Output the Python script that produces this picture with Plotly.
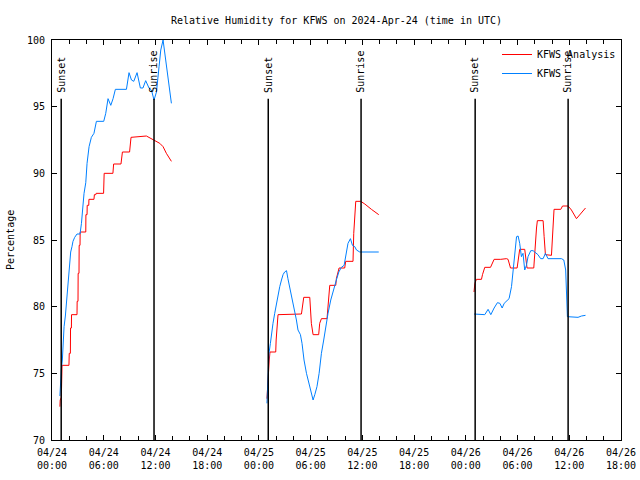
import plotly.graph_objects as go
import pandas as pd

# ---- data ----
day1, day2, day3 = "2024-04-24", "2024-04-25", "2024-04-26"

analysis_d1_time = ["00:55","00:57","01:05","01:06","01:10","01:58","02:00","02:08","02:09","02:15","02:16","02:54","02:55","03:01","03:02","03:08","03:09","03:15","03:16","03:55","03:56","04:04","04:05","04:16","04:17","04:52","04:55","05:05","05:07","05:59","06:03","07:04","07:09","08:00","08:10","09:00","09:10","10:57","11:50","12:07","12:30","12:53","13:16","13:51"]
analysis_d1_rh = [72.5,73.0,73.2,75.0,75.6,75.6,76.5,76.5,78.4,78.4,79.4,79.4,80.4,80.4,82.5,82.5,84.6,84.6,85.6,85.6,86.9,86.9,87.6,87.6,88.05,88.05,88.4,88.4,88.5,88.5,90.0,90.0,90.7,90.7,91.6,91.6,92.7,92.8,92.5,92.4,92.25,92.0,91.5,90.9]

analysis_d2_time = ["00:56","00:58","01:03","01:04","01:10","01:12","01:17","01:57","02:00","02:06","02:13","04:56","05:03","05:12","05:54","05:59","06:05","06:17","06:56","07:03","07:15","07:54","08:01","08:13","08:55","08:59","09:18","09:57","10:04","10:55","11:00","11:14","11:49","12:17","13:03","13:54"]
analysis_d2_rh = [73.1,73.6,74.4,75.0,75.5,76.0,76.6,76.6,77.5,78.5,79.4,79.45,79.9,80.7,80.7,79.75,78.75,77.9,77.9,78.75,79.1,79.1,80.25,81.6,81.6,82.1,82.9,82.9,83.4,83.4,85.5,87.9,87.9,87.7,87.3,86.9]

analysis_d3_time = ["00:57","01:03","01:14","01:49","01:56","02:12","02:52","03:03","03:17","04:03","04:43","04:54","05:11","05:57","06:04","06:15","06:50","06:57","07:06","07:53","08:00","08:12","08:18","08:58","09:05","09:14","09:56","10:03","10:14","11:01","11:13","11:52","12:15","12:50","13:25","13:53"]
analysis_d3_rh = [81.1,81.75,82.05,82.05,82.4,82.95,82.95,83.25,83.55,83.55,83.6,83.55,82.9,82.9,83.5,84.3,84.3,83.5,82.9,82.9,84.25,85.9,86.45,86.45,85.25,83.9,83.85,85.5,87.3,87.3,87.55,87.55,87.25,86.6,87.05,87.4]

obs_d1_time = ["00:55","00:57","01:05","01:12","01:17","01:24","01:33","01:40","01:47","01:56","02:03","02:10","02:19","02:26","02:38","02:54","03:15","03:25","03:34","03:43","03:55","04:04","04:18","04:34","04:52","05:09","06:00","06:14","06:30","06:49","07:05","07:21","08:38","08:56","09:13","09:29","09:52","10:15","10:33","10:52","11:15","11:32","11:50","12:07","12:25","12:37","12:53","13:09","13:27","13:51"]
obs_d1_rh = [73.3,73.9,75.3,76.0,77.6,78.5,79.3,80.3,81.25,82.25,83.25,84.1,84.5,84.9,85.2,85.45,85.45,86.25,87.4,88.5,89.3,90.75,92.0,92.7,93.0,93.9,93.9,94.5,95.6,95.1,95.6,96.3,96.3,97.55,97.0,96.9,97.55,96.4,96.4,96.95,96.4,96.25,95.5,96.1,98.0,99.25,100.0,98.75,97.0,95.25]

obs_d2_time = ["00:56","01:03","01:10","01:20","01:27","01:38","01:50","02:02","02:13","02:25","02:37","02:48","02:59","03:12","03:22","03:34","03:46","03:57","04:09","04:21","04:32","04:49","05:00","05:14","05:31","05:47","06:06","06:17","06:29","06:44","06:59","07:15","07:31","07:45","08:01","08:20","08:41","08:59","09:16","09:34","09:53","10:04","10:20","10:37","10:51","11:07","11:19","11:42","13:54"]
obs_d2_rh = [72.75,74.9,76.5,77.25,78.0,78.75,79.5,80.25,80.9,81.5,82.0,82.4,82.6,82.7,82.1,81.5,80.9,80.25,79.6,79.0,78.25,77.9,77.25,76.0,75.0,74.25,73.5,73.0,73.4,74.0,75.0,76.5,77.5,78.5,79.5,80.5,81.4,82.0,82.6,82.95,83.1,83.75,84.75,85.1,84.6,84.5,84.25,84.1,84.1]

obs_d3_time = ["00:57","01:49","02:12","02:35","02:54","03:17","03:40","03:57","04:13","04:27","04:43","05:01","05:18","05:29","05:41","05:53","06:04","06:15","06:27","06:38","06:50","07:02","07:13","07:32","07:48","08:04","08:22","08:41","08:58","09:14","09:32","11:06","11:22","11:35","11:43","11:47","13:01","13:25","13:53"]
obs_d3_rh = [79.45,79.4,79.4,79.8,79.4,79.9,80.3,80.25,79.9,80.25,80.4,80.6,81.5,82.75,84.4,85.25,85.3,84.75,83.75,84.0,82.75,83.1,83.75,84.2,84.2,84.05,83.9,83.6,83.6,84.0,83.6,83.6,83.5,82.75,81.0,79.25,79.2,79.3,79.35]

sunset_times = ["2024-04-24 01:04", "2024-04-25 01:05", "2024-04-26 01:05"]
sunrise_times = ["2024-04-24 11:50", "2024-04-25 11:51", "2024-04-26 11:52"]

x_tick_times = pd.date_range("2024-04-24 00:00", "2024-04-26 18:00", freq="6h")


def join(parts):
    xs, ys = [], []
    for day, times, vals in parts:
        if xs:
            xs.append(None)
            ys.append(None)
        xs += [f"{day} {t}" for t in times]
        ys += list(vals)
    return xs, ys


ax, ay = join([(day1, analysis_d1_time, analysis_d1_rh),
               (day2, analysis_d2_time, analysis_d2_rh),
               (day3, analysis_d3_time, analysis_d3_rh)])
ox, oy = join([(day1, obs_d1_time, obs_d1_rh),
               (day2, obs_d2_time, obs_d2_rh),
               (day3, obs_d3_time, obs_d3_rh)])

FONT = "DejaVu Sans Mono"

fig = go.Figure()
fig.add_trace(go.Scatter(x=ax, y=ay, mode="lines", name="KFWS Analysis",
                         line=dict(color="#ff0000", width=1), connectgaps=False))
fig.add_trace(go.Scatter(x=ox, y=oy, mode="lines", name="KFWS",
                         line=dict(color="#0080ff", width=1), connectgaps=False))

for label, times in (("Sunset", sunset_times), ("Sunrise", sunrise_times)):
    for t in times:
        fig.add_shape(type="line", xref="x", yref="y", x0=t, x1=t, y0=70, y1=95.6,
                      line=dict(color="black", width=1.5))
        fig.add_annotation(x=t, y=95.9, xref="x", yref="y", text=label, textangle=-90,
                           showarrow=False, xanchor="center", yanchor="bottom",
                           font=dict(family=FONT, size=10, color="black"))

fig.add_annotation(x=-42 / 569, y=0.5, xref="paper", yref="paper", text="Percentage",
                   textangle=-90, showarrow=False, xanchor="center", yanchor="middle",
                   font=dict(family=FONT, size=10, color="black"))

fig.update_layout(
    width=640, height=480,
    margin=dict(l=52, r=19, t=40, b=40),
    paper_bgcolor="white", plot_bgcolor="white",
    font=dict(family=FONT, size=10, color="black"),
    title=dict(text="Relative Humidity for KFWS on 2024-Apr-24 (time in UTC)",
               x=0.5, xref="paper", y=1 - 20 / 480, yref="container",
               xanchor="center", yanchor="middle",
               font=dict(family=FONT, size=10, color="black")),
    legend=dict(x=1, y=1, xanchor="right", yanchor="top", bgcolor="rgba(0,0,0,0)",
                font=dict(family=FONT, size=10), tracegroupgap=0),
    xaxis=dict(type="date", range=["2024-04-24 00:00", "2024-04-26 18:00"],
               tickvals=list(x_tick_times), tickformat="%m/%d<br>%H:%M",
               ticks="inside", ticklen=5, tickcolor="black", ticklabelstandoff=3,
               ticklabeloverflow="allow",
               minor=dict(dtick=2 * 3600000, ticks="inside", ticklen=4, tickcolor="black"),
               showline=True, linecolor="black", linewidth=1, mirror="ticks",
               showgrid=False, zeroline=False, automargin=False),
    yaxis=dict(range=[70, 100], dtick=5, ticks="inside", ticklen=5, tickcolor="black",
               ticklabelstandoff=4,
               showline=True, linecolor="black", linewidth=1, mirror="ticks",
               showgrid=False, zeroline=False, automargin=False),
)

# place the 640x480 figure at the window's top-left corner (no default page margin)
fig.write_html("out.html",
               config={"displayModeBar": False},
               post_script="document.body.style.margin='0';"
                           "document.documentElement.style.overflow='hidden';")
